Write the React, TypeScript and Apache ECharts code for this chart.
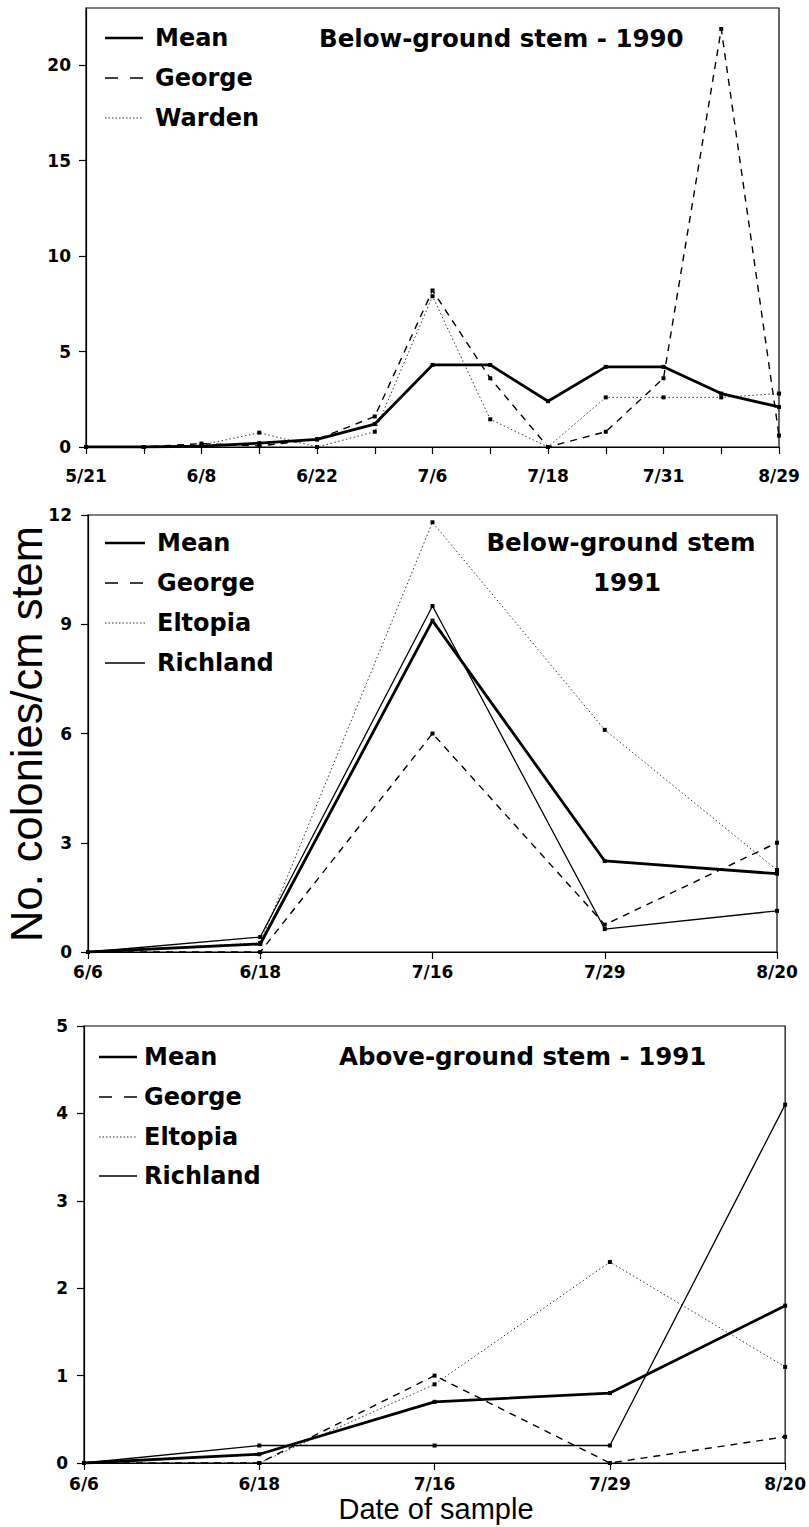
import React, { useEffect, useRef } from 'react';
import * as echarts from 'echarts';

const W = 809;
const H = 1527;

// ---------- Panel 1: Below-ground stem 1990 ----------
const dates1990 = ['5/21', '', '6/8', '', '6/22', '', '7/6', '', '7/18', '', '7/31', '', '8/29'];
const mean1990 = [0, 0, 0.05, 0.2, 0.4, 1.2, 4.3, 4.3, 2.4, 4.2, 4.2, 2.8, 2.1];
const george1990 = [0, 0, 0.18, 0.05, 0.4, 1.6, 8.2, 3.6, 0, 0.8, 3.6, 21.9, 0.6];
const warden1990 = [0, 0, 0.1, 0.75, 0, 0.8, 7.9, 1.45, 0, 2.6, 2.6, 2.6, 2.8];
const yTicks1990 = [0, 5, 10, 15, 20];

// ---------- Panel 2: Below-ground stem 1991 ----------
const dates1991 = ['6/6', '6/18', '7/16', '7/29', '8/20'];
const meanBelow1991 = [0, 0.22, 9.1, 2.5, 2.15];
const georgeBelow1991 = [0, 0, 6.0, 0.75, 3.0];
const eltopiaBelow1991 = [0, 0.25, 11.8, 6.1, 2.25];
const richlandBelow1991 = [0, 0.41, 9.5, 0.63, 1.13];

// ---------- Panel 3: Above-ground stem 1991 ----------
const meanAbove1991 = [0, 0.1, 0.7, 0.8, 1.8];
const georgeAbove1991 = [0, 0, 1.0, 0, 0.3];
const eltopiaAbove1991 = [0, 0, 0.9, 2.3, 1.1];
const richlandAbove1991 = [0, 0.2, 0.2, 0.2, 4.1];

const tickFont = {
  fontFamily: 'DejaVu Sans',
  fontWeight: 'bold' as const,
  fontSize: 17,
  lineHeight: 15,
  color: '#000',
};

const axisLineStyle = { lineStyle: { color: '#000', width: 1.2 } };

const styles: Record<string, any> = {
  mean: { color: '#000', width: 2.8, type: 'solid' },
  george: { color: '#000', width: 1.4, type: [7, 6] },
  dotted: { color: '#333', width: 1, type: [1.5, 2.5] },
  richland: { color: '#000', width: 1.3, type: 'solid' },
};

function mkSeries(name: string, data: any[], style: string, idx: number, z: number) {
  return {
    type: 'line',
    name,
    xAxisIndex: idx,
    yAxisIndex: idx,
    data,
    symbol: 'rect',
    symbolSize: 4,
    showSymbol: true,
    itemStyle: { color: '#000' },
    lineStyle: styles[style],
    emphasis: { disabled: true },
    z,
    silent: true,
  };
}

function legendItems(x1: number, x2: number, tx: number, ys: number[], names: string[], kinds: string[]) {
  const els: any[] = [];
  names.forEach((n, i) => {
    const k = kinds[i];
    let st: any = { stroke: '#000', lineWidth: 2.6 };
    if (k === 'george') st = { stroke: '#000', lineWidth: 1.4, lineDash: [13, 12] };
    if (k === 'dotted') st = { stroke: '#333', lineWidth: 1, lineDash: [1.5, 2] };
    if (k === 'richland') st = { stroke: '#000', lineWidth: 1.4 };
    els.push({ type: 'line', shape: { x1, y1: ys[i], x2, y2: ys[i] }, style: st, silent: true });
    els.push({
      type: 'text',
      x: tx,
      y: ys[i],
      silent: true,
      style: {
        text: n,
        fill: '#000',
        fontFamily: 'DejaVu Sans',
        fontWeight: 'bold',
        fontSize: 24,
        align: 'left',
        verticalAlign: 'middle',
      },
    });
  });
  return els;
}

function titleText(text: string, x: number, y: number, align: string) {
  return {
    type: 'text',
    x,
    y,
    silent: true,
    style: {
      text,
      fill: '#000',
      fontFamily: 'DejaVu Sans',
      fontWeight: 'bold',
      fontSize: 24.5,
      align,
      verticalAlign: 'middle',
    },
  };
}

function buildOption() {
  const gridBase = { show: true, borderColor: '#000', borderWidth: 1.2, backgroundColor: 'transparent' };
  const grids = [
    { ...gridBase, left: 86, top: 8, width: 693, height: 439 },
    { ...gridBase, left: 88, top: 515, width: 689, height: 437 },
    { ...gridBase, left: 84, top: 1026, width: 703, height: 437 },
  ];

  const xAxes: any[] = [
    {
      type: 'value',
      gridIndex: 0,
      min: 0,
      max: 12,
      interval: 1,
      axisLine: axisLineStyle,
      axisTick: { show: true, length: 7, lineStyle: { color: '#000', width: 1.2 } },
      axisLabel: { ...tickFont, margin: 21, formatter: (v: number) => dates1990[Math.round(v)] ?? '' },
      splitLine: { show: false },
    },
    {
      type: 'category',
      gridIndex: 1,
      data: dates1991,
      boundaryGap: false,
      axisLine: axisLineStyle,
      axisTick: { show: true, length: 7, alignWithLabel: true, lineStyle: { color: '#000', width: 1.2 } },
      axisLabel: { ...tickFont, margin: 12 },
      splitLine: { show: false },
    },
    {
      type: 'category',
      gridIndex: 2,
      data: dates1991,
      boundaryGap: false,
      axisLine: axisLineStyle,
      axisTick: { show: true, length: 7, alignWithLabel: true, lineStyle: { color: '#000', width: 1.2 } },
      axisLabel: { ...tickFont, margin: 13 },
      splitLine: { show: false },
    },
  ];

  const yAxes: any[] = [
    {
      type: 'value',
      gridIndex: 0,
      min: 0,
      max: 23,
      interval: 5,
      axisLine: { show: true, ...axisLineStyle },
      axisTick: { show: true, length: 7, customValues: yTicks1990, lineStyle: { color: '#000', width: 1.2 } },
      axisLabel: { ...tickFont, margin: 15, customValues: yTicks1990 },
      splitLine: { show: false },
    },
    {
      type: 'value',
      gridIndex: 1,
      min: 0,
      max: 12,
      interval: 3,
      axisLine: { show: true, ...axisLineStyle },
      axisTick: { show: true, length: 7, lineStyle: { color: '#000', width: 1.2 } },
      axisLabel: { ...tickFont, margin: 16 },
      splitLine: { show: false },
    },
    {
      type: 'value',
      gridIndex: 2,
      min: 0,
      max: 5,
      interval: 1,
      axisLine: { show: true, ...axisLineStyle },
      axisTick: { show: true, length: 7, lineStyle: { color: '#000', width: 1.2 } },
      axisLabel: { ...tickFont, margin: 16 },
      splitLine: { show: false },
    },
  ];

  const pairs = (arr: number[]) => arr.map((v, i) => [i, v]);

  const series = [
    mkSeries('Warden', pairs(warden1990), 'dotted', 0, 2),
    mkSeries('George', pairs(george1990), 'george', 0, 3),
    mkSeries('Mean', pairs(mean1990), 'mean', 0, 5),

    mkSeries('Eltopia', eltopiaBelow1991, 'dotted', 1, 2),
    mkSeries('George', georgeBelow1991, 'george', 1, 3),
    mkSeries('Richland', richlandBelow1991, 'richland', 1, 4),
    mkSeries('Mean', meanBelow1991, 'mean', 1, 5),

    mkSeries('Eltopia', eltopiaAbove1991, 'dotted', 2, 2),
    mkSeries('George', georgeAbove1991, 'george', 2, 3),
    mkSeries('Richland', richlandAbove1991, 'richland', 2, 4),
    mkSeries('Mean', meanAbove1991, 'mean', 2, 5),
  ];

  const graphic: any[] = [
    ...legendItems(105, 143, 155, [38, 78, 118], ['Mean', 'George', 'Warden'], ['mean', 'george', 'dotted']),
    ...legendItems(105, 145, 157, [543, 583, 623, 663], ['Mean', 'George', 'Eltopia', 'Richland'], ['mean', 'george', 'dotted', 'richland']),
    ...legendItems(99, 137, 144, [1057, 1097, 1137, 1176], ['Mean', 'George', 'Eltopia', 'Richland'], ['mean', 'george', 'dotted', 'richland']),
    titleText('Below-ground stem - 1990', 319, 38, 'left'),
    titleText('Below-ground stem', 621, 542, 'center'),
    titleText('1991', 627, 582, 'center'),
    titleText('Above-ground stem - 1991', 339, 1056, 'left'),
    {
      type: 'text',
      x: 27,
      y: 734,
      rotation: Math.PI / 2,
      silent: true,
      style: {
        text: 'No. colonies/cm stem',
        fill: '#000',
        fontFamily: 'Liberation Sans',
        fontSize: 43.5,
        align: 'center',
        verticalAlign: 'middle',
      },
    },
    {
      type: 'text',
      x: 436,
      y: 1509,
      silent: true,
      style: {
        text: 'Date of sample',
        fill: '#000',
        fontFamily: 'Liberation Sans',
        fontSize: 29,
        lineHeight: 22,
        align: 'center',
        verticalAlign: 'middle',
      },
    },
  ];

  return {
    animation: false,
    backgroundColor: '#fff',
    grid: grids,
    xAxis: xAxes,
    yAxis: yAxes,
    series,
    graphic,
  };
}

export default function App() {
  const ref = useRef<HTMLDivElement>(null);
  useEffect(() => {
    document.body.style.margin = '0';
    const chart = echarts.init(ref.current!, null, { renderer: 'svg', width: W, height: H });
    chart.setOption(buildOption() as any);
    return () => {
      chart.dispose();
    };
  }, []);
  return <div ref={ref} style={{ width: W, height: H, background: '#fff' }} />;
}
